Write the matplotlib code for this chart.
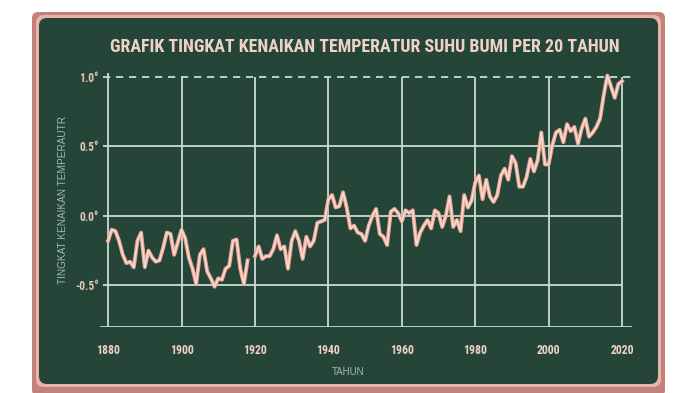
import numpy as np
import matplotlib.pyplot as plt
from matplotlib.patches import FancyBboxPatch

# GISTEMP-like annual anomaly (1919 missing in the drawing)
years = np.arange(1880, 2021)
anomaly = [
    -0.18, -0.10, -0.11, -0.18, -0.28, -0.34, -0.33, -0.37, -0.18, -0.12,
    -0.37, -0.25, -0.30, -0.33, -0.32, -0.23, -0.12, -0.13, -0.28, -0.19,
    -0.10, -0.16, -0.30, -0.38, -0.49, -0.28, -0.24, -0.40, -0.45, -0.51,
    -0.45, -0.46, -0.38, -0.36, -0.18, -0.17, -0.38, -0.49, -0.32, np.nan,
    -0.29, -0.22, -0.31, -0.29, -0.29, -0.24, -0.14, -0.24, -0.22, -0.38,
    -0.18, -0.11, -0.18, -0.31, -0.15, -0.22, -0.18, -0.05, -0.04, -0.03,
    0.12, 0.15, 0.06, 0.07, 0.17, 0.06, -0.09, -0.07, -0.12, -0.13,
    -0.18, -0.07, 0.00, 0.05, -0.13, -0.15, -0.21, 0.03, 0.05, 0.02,
    -0.04, 0.04, 0.02, 0.04, -0.21, -0.12, -0.07, -0.03, -0.09, 0.04,
    0.02, -0.08, 0.00, 0.14, -0.08, -0.03, -0.11, 0.15, 0.06, 0.11,
    0.24, 0.29, 0.12, 0.26, 0.14, 0.10, 0.15, 0.29, 0.34, 0.26,
    0.43, 0.38, 0.21, 0.21, 0.28, 0.41, 0.32, 0.40, 0.60, 0.37,
    0.37, 0.51, 0.60, 0.62, 0.53, 0.66, 0.61, 0.64, 0.52, 0.63,
    0.70, 0.57, 0.60, 0.64, 0.70, 0.87, 1.01, 0.93, 0.85, 0.95,
    0.97,
]
xticks = [1880, 1900, 1920, 1940, 1960, 1980, 2000, 2020]
yticks = [-0.5, 0.0, 0.5]
ytick_labels = ['-0.5°', '0.0°', '0.5°', '1.0°']

board = '#244537'
chalk = '#c9dcd3'
pink_txt = '#eed2c8'
cond = ['Roboto Condensed', 'Oswald', 'Sofia Sans Condensed', 'DejaVu Sans']

W, H = 700, 393
fig = plt.figure(figsize=(W / 100, H / 100), dpi=100)
fig.patch.set_facecolor('white')

# frame + chalkboard drawn in pixel space
bg = fig.add_axes([0, 0, 1, 1])
bg.set_xlim(0, W)
bg.set_ylim(H, 0)
bg.axis('off')
bg.add_patch(FancyBboxPatch((32, 12), 633, 384, boxstyle='round,pad=0,rounding_size=6',
                            fc='#c4817b', ec='none'))
bg.add_patch(FancyBboxPatch((36, 15), 625, 372, boxstyle='round,pad=0,rounding_size=8',
                            fc='#e8b4aa', ec='none'))
bg.add_patch(FancyBboxPatch((39, 18), 619, 366, boxstyle='round,pad=0,rounding_size=8',
                            fc=board, ec='none'))

ax = fig.add_axes([100 / W, (H - 327) / H, 532 / W, (327 - 72.8) / H])
ax.set_facecolor('none')
ax.set_xlim(1877.8, 2022.7)
ax.set_ylim(-0.8, 1.03)
for s in ax.spines.values():
    s.set_visible(False)

# chalk grid
ax.vlines(xticks, -0.83, 1.0, color=chalk, lw=1.3, zorder=1)
ax.vlines([1880], 1.0, 1.03, color=chalk, lw=1.3, zorder=1)
ax.hlines(yticks, 1878.5, 2020, color=chalk, lw=1.3, zorder=1)
ax.hlines([-0.8], 1877.8, 2022.7, color=chalk, lw=1.3, zorder=1)
ax.hlines([1.0], 1878.5, 2022.7, color=chalk, lw=1.3, linestyles=(0, (4, 3.2)), zorder=1)

# temperature line, chalky pink
ax.plot(years, anomaly, color='#e9a797', lw=2.8, solid_joinstyle='round', zorder=3)
ax.plot(years, anomaly, color='#fadbd1', lw=1.1, solid_joinstyle='round', zorder=4)

ax.set_xticks(xticks)
ax.set_xticklabels([str(x) for x in xticks], fontfamily=cond,
                   fontweight='bold', fontsize=8.5, color=pink_txt)
ax.set_yticks(yticks + [1.0])
ax.set_yticklabels(ytick_labels, fontfamily=cond,
                   fontweight='bold', fontsize=8.3, color='#e6c6bc')
ax.tick_params(axis='x', length=0, pad=12)
ax.tick_params(axis='y', length=0, pad=1)

ax.set_ylabel('TINGKAT KENAIKAN TEMPERAUTR', fontfamily='Liberation Sans', fontsize=7.2,
              color='#a3b9af')
ax.yaxis.set_label_coords(-32 / 532, 0.5)
ax.set_xlabel('TAHUN', fontfamily='Liberation Sans', fontsize=7.0, color='#a3b9af')
ax.xaxis.set_label_coords((348 - 100) / 532, -(367 - 327) / (327 - 72.8))

fig.text(365 / W, 1 - 47 / H, 'GRAFIK TINGKAT KENAIKAN TEMPERATUR SUHU BUMI PER 20 TAHUN',
         ha='center', va='center', fontfamily=cond,
         fontweight='bold', fontsize=12.9, color=pink_txt)

plt.savefig('out.png', dpi=100, facecolor=fig.get_facecolor())
